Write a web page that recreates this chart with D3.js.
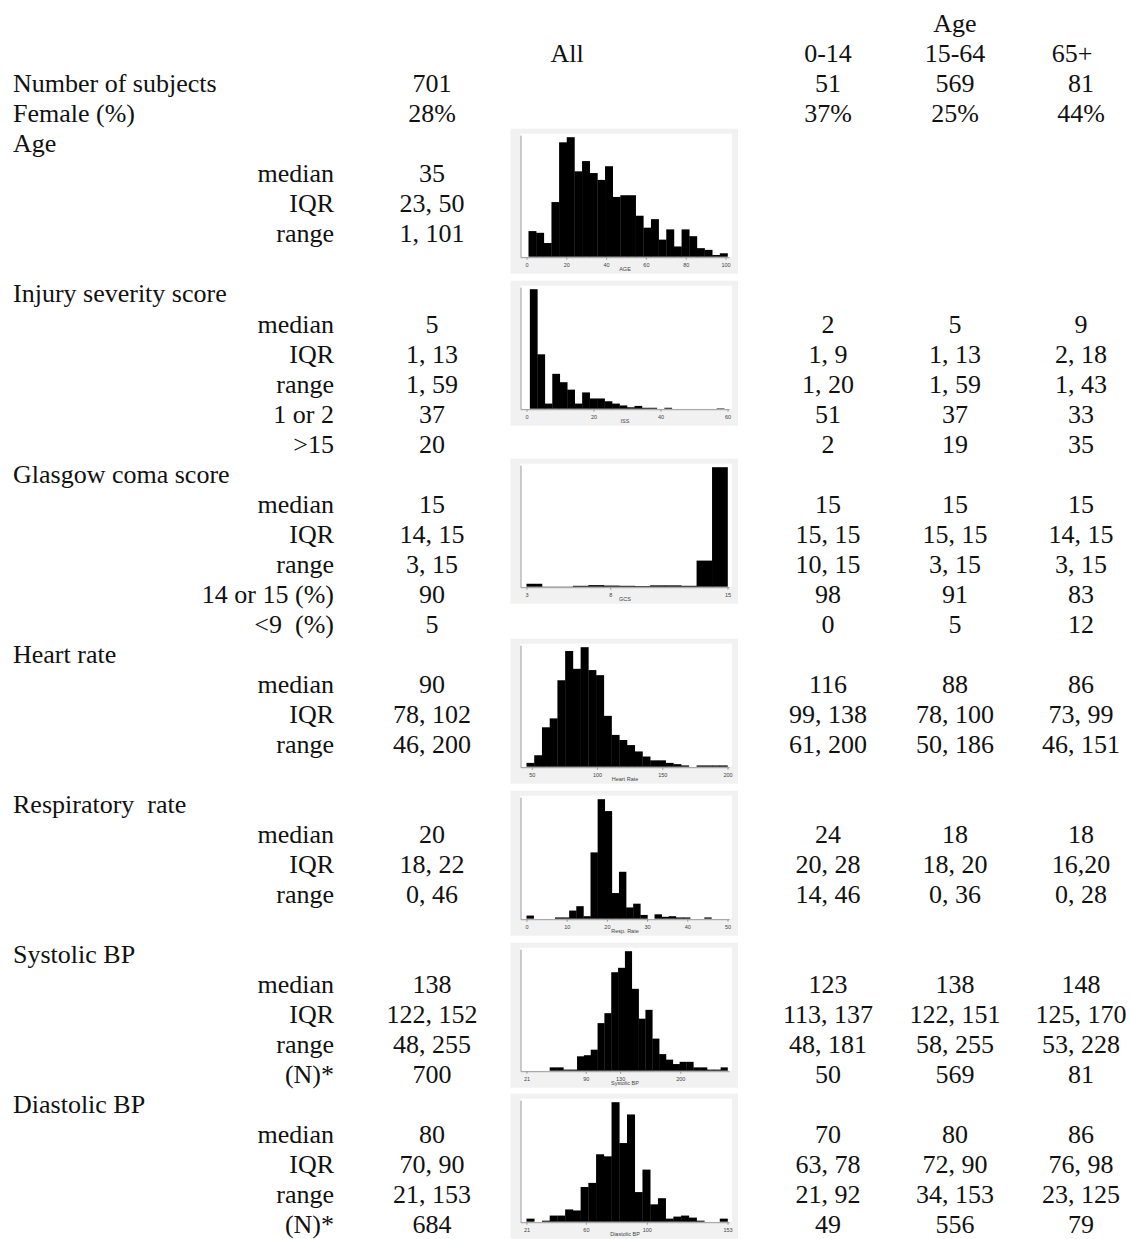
<!DOCTYPE html>
<html>
<head>
<meta charset="utf-8">
<script src="https://cdn.jsdelivr.net/npm/d3@7"></script>
<style>
  body { margin: 0; background: #fff; }
  svg text { font-family: "Liberation Serif", "Times New Roman", serif; }
</style>
</head>
<body>
<div id="chart"></div>
<script>
// Table values, one entry per table row (rows below the column headers)
var groupLabels = ["Number of subjects", "Female (%)", "Age", "", "", "", "",
  "Injury severity score", "", "", "", "", "",
  "Glasgow coma score", "", "", "", "", "",
  "Heart rate", "", "", "", "",
  "Respiratory  rate", "", "", "", "",
  "Systolic BP", "", "", "", "",
  "Diastolic BP", "", "", "", ""];

var statLabels = ["", "", "", "median", "IQR", "range", "",
  "", "median", "IQR", "range", "1 or 2", ">15",
  "", "median", "IQR", "range", "14 or 15 (%)", "<9  (%)",
  "", "median", "IQR", "range", "",
  "", "median", "IQR", "range", "",
  "", "median", "IQR", "range", "(N)*",
  "", "median", "IQR", "range", "(N)*"];

var allValues = ["701", "28%", "", "35", "23, 50", "1, 101", "",
  "", "5", "1, 13", "1, 59", "37", "20",
  "", "15", "14, 15", "3, 15", "90", "5",
  "", "90", "78, 102", "46, 200", "",
  "", "20", "18, 22", "0, 46", "",
  "", "138", "122, 152", "48, 255", "700",
  "", "80", "70, 90", "21, 153", "684"];

var age0to14 = ["51", "37%", "", "", "", "", "",
  "", "2", "1, 9", "1, 20", "51", "2",
  "", "15", "15, 15", "10, 15", "98", "0",
  "", "116", "99, 138", "61, 200", "",
  "", "24", "20, 28", "14, 46", "",
  "", "123", "113, 137", "48, 181", "50",
  "", "70", "63, 78", "21, 92", "49"];

var age15to64 = ["569", "25%", "", "", "", "", "",
  "", "5", "1, 13", "1, 59", "37", "19",
  "", "15", "15, 15", "3, 15", "91", "5",
  "", "88", "78, 100", "50, 186", "",
  "", "18", "18, 20", "0, 36", "",
  "", "138", "122, 151", "58, 255", "569",
  "", "80", "72, 90", "34, 153", "556"];

var age65plus = ["81", "44%", "", "", "", "", "",
  "", "9", "2, 18", "1, 43", "33", "35",
  "", "15", "14, 15", "3, 15", "83", "12",
  "", "86", "73, 99", "46, 151", "",
  "", "18", "16,20", "0, 28", "",
  "", "148", "125, 170", "53, 228", "81",
  "", "86", "76, 98", "23, 125", "79"];

// Histogram bin counts, bin range, x ticks
var ageCounts = [15, 14, 8, 32, 67, 70, 50, 56, 49, 45, 53, 35, 36, 36, 24, 17, 22, 10, 16, 6, 16, 12, 5, 4, 1, 2];
var ageRange = [1, 101];
var ageTicks = [0, 20, 40, 60, 80, 100];

var issCounts = [257, 117, 11, 75, 57, 41, 11, 35, 22, 22, 16, 11, 7, 3, 6, 2, 2, 0, 2, 0, 0, 0, 0, 0, 0, 1];
var issRange = [1, 59];
var issTicks = [0, 20, 40, 60];

var gcsCounts = [13, 1, 1, 4, 7, 5, 4, 3, 6, 6, 4, 116, 531];
var gcsRange = [3, 15];
var gcsTicks = [3, 8, 15];

var hrCounts = [3, 9, 31, 38, 68, 91, 77, 94, 76, 72, 40, 25, 21, 17, 12, 8, 5, 5, 3, 2, 1, 0, 1, 1, 1, 1];
var hrRange = [46, 200];
var hrTicks = [50, 100, 150, 200];

var rrCounts = [5, 0, 0, 0, 2, 2, 13, 20, 4, 106, 191, 172, 41, 75, 18, 24, 6, 0, 7, 3, 4, 2, 2, 0, 0, 2];
var rrRange = [0, 46];
var rrTicks = [0, 10, 20, 30, 40, 50];

var sbpCounts = [3, 3, 1, 1, 13, 14, 19, 43, 52, 89, 93, 108, 74, 47, 55, 29, 15, 10, 6, 8, 8, 3, 3, 1, 1, 3];
var sbpRange = [48, 255];
var sbpTicks = [21, 90, 130, 200];

var dbpCounts = [3, 0, 1, 6, 6, 12, 11, 34, 38, 66, 64, 117, 77, 105, 29, 51, 17, 23, 3, 5, 6, 4, 1, 0, 0, 3];
var dbpRange = [21, 153];
var dbpTicks = [21, 60, 100, 153];

// Page setup
var svgWidth = 1131;
var svgHeight = 1239;
var fontSize = 26;

var svg = d3.select("#chart")
  .append("svg")
  .attr("width", svgWidth)
  .attr("height", svgHeight);

// grid row -> text baseline
var rowY = d3.scaleLinear().domain([0, 40]).range([32.2, 1233.4]);

var colX = d3.scaleOrdinal()
  .domain(["group", "stat", "all", "hist", "a0", "a1", "a2"])
  .range([13, 334, 432, 567, 828, 955, 1081]);

// Column headers
var headers = [
  {text: "Age", col: "a1", row: 0, dx: 0},
  {text: "All", col: "hist", row: 1, dx: 0},
  {text: "0-14", col: "a0", row: 1, dx: 0},
  {text: "15-64", col: "a1", row: 1, dx: 0},
  {text: "65+", col: "a2", row: 1, dx: -9}
];

svg.append("g").selectAll("text")
  .data(headers)
  .join("text")
  .attr("x", d => colX(d.col) + d.dx)
  .attr("y", d => rowY(d.row))
  .attr("text-anchor", "middle")
  .style("font-size", fontSize + "px")
  .attr("fill", "#111")
  .text(d => d.text);

// Table body columns
var columns = [
  {key: "group", values: groupLabels, anchor: "start"},
  {key: "stat", values: statLabels, anchor: "end"},
  {key: "all", values: allValues, anchor: "middle"},
  {key: "a0", values: age0to14, anchor: "middle"},
  {key: "a1", values: age15to64, anchor: "middle"},
  {key: "a2", values: age65plus, anchor: "middle"}
];

columns.forEach(function(c) {
  svg.append("g").selectAll("text")
    .data(c.values)
    .join("text")
    .attr("x", colX(c.key))
    .attr("y", (d, i) => rowY(i + 2))
    .attr("text-anchor", c.anchor)
    .style("font-size", fontSize + "px")
    .style("white-space", "pre")
    .attr("fill", "#111")
    .text(d => d);
});

// Histograms
var hists = [
  {counts: ageCounts, range: ageRange, ticks: ageTicks, title: "AGE"},
  {counts: issCounts, range: issRange, ticks: issTicks, title: "ISS"},
  {counts: gcsCounts, range: gcsRange, ticks: gcsTicks, title: "GCS"},
  {counts: hrCounts, range: hrRange, ticks: hrTicks, title: "Heart Rate"},
  {counts: rrCounts, range: rrRange, ticks: rrTicks, title: "Resp. Rate"},
  {counts: sbpCounts, range: sbpRange, ticks: sbpTicks, title: "Systolic BP"},
  {counts: dbpCounts, range: dbpRange, ticks: dbpTicks, title: "Diastolic BP"}
];
// baseline (y of x axis) for each panel
var panelBase = [256.7, 408.7, 586.7, 766.7, 918.7, 1070.7, 1221.7];

hists.forEach(function(h, k) {
  var base = panelBase[k];
  var g = svg.append("g");

  // graph region + plot region
  g.append("rect")
    .attr("x", 510.5).attr("y", base - 128)
    .attr("width", 227.5).attr("height", 145)
    .attr("fill", "#f1f1f1");
  g.append("rect")
    .attr("x", 520.5).attr("y", base - 123)
    .attr("width", 211.5).attr("height", 123)
    .attr("fill", "#fff");

  var x = d3.scaleLinear()
    .domain(d3.extent(h.ticks.concat(h.range)))
    .range([526.5, 727.5]);
  var y = d3.scaleLinear()
    .domain([0, d3.max(h.counts)])
    .range([base, base - 119.5]);
  var w = (h.range[1] - h.range[0]) / h.counts.length;

  g.append("g").selectAll("rect")
    .data(h.counts)
    .join("rect")
    .attr("x", (d, i) => x(h.range[0] + i * w))
    .attr("width", (d, i) => x(h.range[0] + (i + 1) * w) - x(h.range[0] + i * w) + 0.3)
    .attr("y", d => y(d))
    .attr("height", d => base - y(d))
    .attr("fill", "#000");

  // axes
  var xa = d3.scaleLinear()
    .domain([x.invert(520.5), x.invert(729)])
    .range([520.5, 729]);
  var xAxis = g.append("g")
    .attr("transform", `translate(0, ${base + 0.5})`)
    .call(d3.axisBottom(xa).tickValues(h.ticks).tickSize(2.5).tickSizeOuter(0).tickFormat(d3.format("d")));
  xAxis.selectAll("path, line").attr("stroke", "#999");
  xAxis.selectAll("text")
    .style("font-family", "'Liberation Sans', Arial, sans-serif")
    .style("font-size", "5.5px")
    .attr("fill", "#444");

  var ya = d3.scaleLinear().domain([0, 1]).range([base + 0.5, base - 121.5]);
  var yAxis = g.append("g")
    .attr("transform", "translate(520.5, 0)")
    .call(d3.axisLeft(ya).tickValues([]).tickSizeOuter(0));
  yAxis.selectAll("path").attr("stroke", "#999");

  g.append("text")
    .attr("x", 625)
    .attr("y", base + 14)
    .attr("text-anchor", "middle")
    .style("font-family", "'Liberation Sans', Arial, sans-serif")
    .style("font-size", "5.5px")
    .attr("fill", "#444")
    .text(h.title);
});
</script>
</body>
</html>
